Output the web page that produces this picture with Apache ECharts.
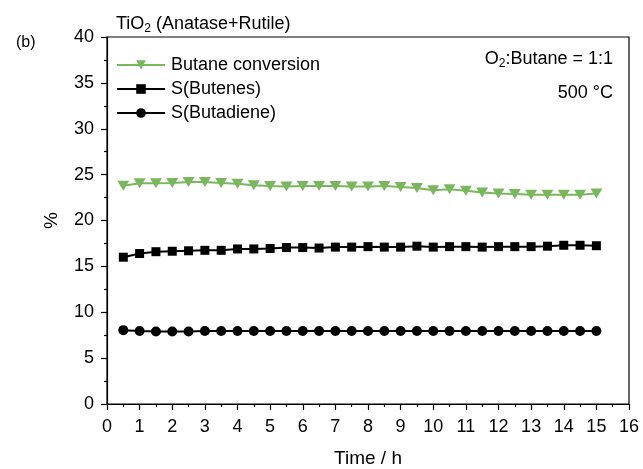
<!DOCTYPE html>
<html>
<head>
<meta charset="utf-8">
<script src="https://cdn.jsdelivr.net/npm/echarts@6/dist/echarts.min.js"></script>
<style>
  html, body { margin: 0; padding: 0; background: #fff; }
  #chart { width: 643px; height: 469px; }
</style>
</head>
<body>
<div id="chart"></div>
<script>
// time on stream (h)
var times = [0.5, 1, 1.5, 2, 2.5, 3, 3.5, 4, 4.5, 5, 5.5, 6, 6.5, 7, 7.5, 8,
             8.5, 9, 9.5, 10, 10.5, 11, 11.5, 12, 12.5, 13, 13.5, 14, 14.5, 15];
var butaneConversion = [23.8, 24.05, 24.05, 24.1, 24.2, 24.2, 24.1, 24.0, 23.85, 23.75, 23.7, 23.75, 23.75, 23.75, 23.7, 23.7,
                        23.75, 23.65, 23.55, 23.3, 23.4, 23.25, 23.05, 22.95, 22.9, 22.8, 22.8, 22.8, 22.8, 22.95];
var sButenes = [16.0, 16.4, 16.6, 16.65, 16.7, 16.75, 16.75, 16.9, 16.9, 16.95, 17.05, 17.05, 17.0, 17.1, 17.1, 17.15,
                17.1, 17.1, 17.2, 17.1, 17.15, 17.15, 17.1, 17.15, 17.15, 17.15, 17.2, 17.3, 17.3, 17.25];
var sButadiene = [8.05, 7.95, 7.9, 7.9, 7.9, 7.95, 7.95, 7.95, 7.95, 7.95, 7.95, 7.95, 7.95, 7.95, 7.95, 7.95,
                  7.95, 7.95, 7.95, 7.95, 7.95, 7.95, 7.95, 7.95, 7.95, 7.95, 7.95, 7.95, 7.95, 7.95];

function pairs(ys) {
    return times.map(function (t, i) { return [t, ys[i]]; });
}

var green = '#78b85c';
var font = 'Arial, "Liberation Sans", sans-serif';

var myChart = echarts.init(document.getElementById('chart'));
var option = {
    backgroundColor: '#fff',
    animation: false,
    textStyle: {fontFamily: font, color: '#000'},
    grid: {
        left: 107, right: 14, top: 37, bottom: 65,
        outerBoundsMode: 'none', containLabel: false,
        show: true, borderColor: '#000', borderWidth: 1.2
    },
    title: [{
        text: '{a|TiO}{s|2}{a| (Anatase+Rutile)}',
        left: 111, top: 8,
        textStyle: {
            rich: {
                a: {fontSize: 18, fontWeight: 'normal', fontFamily: font, color: '#000', lineHeight: 22},
                s: {fontSize: 12, fontWeight: 'normal', fontFamily: font, color: '#000', lineHeight: 14, verticalAlign: 'bottom'}
            }
        }
    }, {
        text: '(b)',
        left: 11, top: 30,
        textStyle: {fontSize: 16, fontWeight: 'normal', fontFamily: font, color: '#000'}
    }],
    legend: {
        orient: 'vertical',
        left: 111, top: 51,
        itemWidth: 48, itemHeight: 12, itemGap: 6,
        textStyle: {fontSize: 18, color: '#000', fontFamily: font, padding: [0, 0, 0, 1]},
        data: ['Butane conversion', 'S(Butenes)', 'S(Butadiene)']
    },
    xAxis: {
        type: 'value',
        min: 0, max: 16, interval: 1,
        name: 'Time / h',
        nameLocation: 'middle',
        nameGap: 45,
        nameTextStyle: {fontSize: 19, color: '#000', fontFamily: font},
        axisLine: {lineStyle: {color: '#000', width: 1.2}},
        axisTick: {inside: false, length: 6, lineStyle: {color: '#000', width: 1.2}},
        minorTick: {show: true, splitNumber: 2, length: 3, lineStyle: {color: '#000', width: 1.2}},
        axisLabel: {fontSize: 18, color: '#000', margin: 14, fontFamily: font},
        splitLine: {show: false}
    },
    yAxis: {
        type: 'value',
        min: 0, max: 40, interval: 5,
        name: '%',
        nameLocation: 'middle',
        nameGap: 46,
        nameTextStyle: {fontSize: 19, color: '#000', fontFamily: font},
        axisLine: {show: true, lineStyle: {color: '#000', width: 1.2}},
        axisTick: {show: true, inside: false, length: 6, lineStyle: {color: '#000', width: 1.2}},
        minorTick: {show: true, splitNumber: 2, length: 3, lineStyle: {color: '#000', width: 1.2}},
        axisLabel: {fontSize: 18, color: '#000', margin: 13, fontFamily: font},
        splitLine: {show: false}
    },
    graphic: [{
        type: 'text',
        right: 30, top: 50,
        style: {
            text: '{a|O}{s|2}{a|:Butane = 1:1}',
            rich: {
                a: {fontSize: 18, fontFamily: font, fill: '#000', lineHeight: 22},
                s: {fontSize: 12, fontFamily: font, fill: '#000', lineHeight: 14, verticalAlign: 'bottom'}
            }
        }
    }, {
        type: 'text',
        right: 30, top: 84,
        style: {text: '500 °C', fontSize: 18, fontFamily: font, fill: '#000'}
    }],
    series: [{
        name: 'Butane conversion',
        type: 'line',
        data: pairs(butaneConversion),
        symbol: 'triangle', symbolRotate: 180, symbolSize: [12, 10],
        itemStyle: {color: green},
        lineStyle: {color: green, width: 2}
    }, {
        name: 'S(Butenes)',
        type: 'line',
        data: pairs(sButenes),
        symbol: 'rect', symbolSize: 9,
        itemStyle: {color: '#000'},
        lineStyle: {color: '#000', width: 2}
    }, {
        name: 'S(Butadiene)',
        type: 'line',
        data: pairs(sButadiene),
        symbol: 'circle', symbolSize: 10,
        itemStyle: {color: '#000'},
        lineStyle: {color: '#000', width: 2}
    }]
};
option && myChart.setOption(option);
</script>
</body>
</html>
